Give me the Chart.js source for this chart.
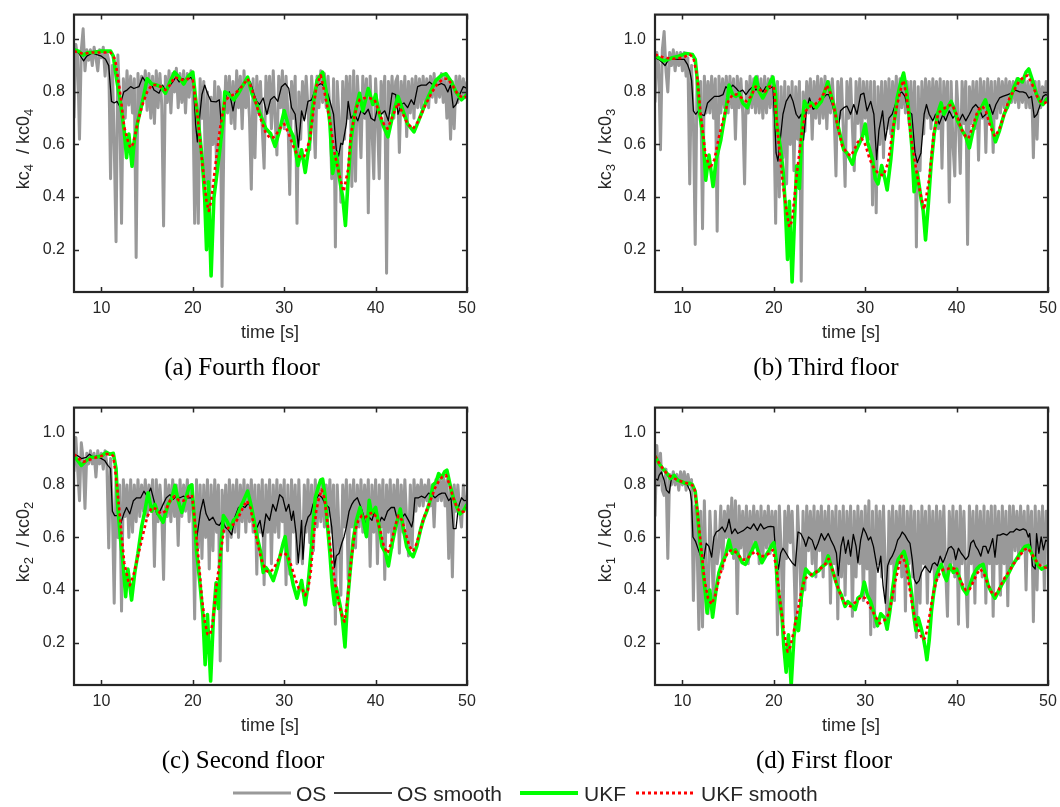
<!DOCTYPE html>
<html>
<head>
<meta charset="utf-8">
<script src="https://cdn.jsdelivr.net/npm/chart.js@4.4.0/dist/chart.umd.min.js"></script>
<style>
  body { margin: 0; background: #fff; }
  #page { position: relative; width: 1060px; height: 807px; overflow: hidden; font-family: "Liberation Sans", Arial, sans-serif; color: #262626; }
  canvas { position: absolute; }
  .ylab { position: absolute; transform: translate(-50%, -50%) rotate(-90deg); white-space: nowrap; font-size: 18px; }
  .ylab sub { font-size: 13px; vertical-align: -4px; }
  .xlab { position: absolute; transform: translate(-50%, -50%); white-space: nowrap; font-size: 18px; }
  .cap { position: absolute; transform: translate(-50%, -50%); white-space: nowrap; font-family: "Liberation Serif", "Times New Roman", serif; font-size: 25px; color: #000; }
  .leg { position: absolute; top: 793px; transform: translateY(-50%); white-space: nowrap; font-size: 21px; line-height: 1; }
  .legline { position: absolute; top: 790px; }
</style>
</head>
<body>
<div id="page">
  <canvas id="chart-a" width="473" height="326"></canvas>
  <canvas id="chart-b" width="473" height="326"></canvas>
  <canvas id="chart-c" width="473" height="326"></canvas>
  <canvas id="chart-d" width="473" height="326"></canvas>

  <div class="ylab" style="left:24px; top:149px;">kc<sub>4</sub>&nbsp; / kc0<sub>4</sub></div>
  <div class="ylab" style="left:606px; top:149px;">kc<sub>3</sub>&nbsp; / kc0<sub>3</sub></div>
  <div class="ylab" style="left:24px; top:542px;">kc<sub>2</sub>&nbsp; / kc0<sub>2</sub></div>
  <div class="ylab" style="left:606px; top:542px;">kc<sub>1</sub>&nbsp; / kc0<sub>1</sub></div>

  <div class="xlab" style="left:270px; top:332px;">time [s]</div>
  <div class="xlab" style="left:851px; top:332px;">time [s]</div>
  <div class="xlab" style="left:270px; top:725px;">time [s]</div>
  <div class="xlab" style="left:851px; top:725px;">time [s]</div>

  <div class="cap" style="left:242px; top:367px;">(a) Fourth floor</div>
  <div class="cap" style="left:826px; top:367px;">(b) Third floor</div>
  <div class="cap" style="left:243px; top:760px;">(c) Second floor</div>
  <div class="cap" style="left:824px; top:760px;">(d) First floor</div>

  <svg class="legline" style="left:233px;" width="58" height="6"><line x1="0" y1="3" x2="58" y2="3" stroke="#999999" stroke-width="3"/></svg>
  <div class="leg" style="left:296px;">OS</div>
  <svg class="legline" style="left:334px;" width="58" height="6"><line x1="0" y1="3" x2="58" y2="3" stroke="#000000" stroke-width="1.3"/></svg>
  <div class="leg" style="left:397px;">OS smooth</div>
  <svg class="legline" style="left:520px;" width="58" height="6"><line x1="0" y1="3" x2="58" y2="3" stroke="#00ff00" stroke-width="4"/></svg>
  <div class="leg" style="left:584px;">UKF</div>
  <svg class="legline" style="left:636px;" width="58" height="6"><line x1="0" y1="3" x2="58" y2="3" stroke="#ff0000" stroke-width="3" stroke-dasharray="3 3"/></svg>
  <div class="leg" style="left:701px;">UKF smooth</div>
</div>

<script>
'use strict';

var xTicks = [10, 20, 30, 40, 50];
var yTicks = [0.2, 0.4, 0.6, 0.8, 1.0];
var xMin = 7, xMax = 50;
var yMin = 0.039, yMax = 1.094;

// OS samples every 0.2 s from 7 s
var osStart = 7, osStep = 0.2;

// (a) fourth floor
var aOs = [
  0.70, 0.98, 0.93, 0.62, 0.96,  1.04, 0.88, 0.96, 0.92, 0.96,
  0.90, 0.97, 0.93, 0.88, 0.96,  0.93, 0.97, 0.86, 0.95, 0.92,
  0.47, 0.90, 0.60, 0.23, 0.94,  0.75, 0.30, 0.85, 0.70, 0.88,
  0.75, 0.86, 0.72, 0.85, 0.17,  0.87, 0.74, 0.86, 0.78, 0.88,
  0.73, 0.87, 0.70, 0.86, 0.68,  0.88, 0.74, 0.87, 0.75, 0.29,
  0.86, 0.76, 0.88, 0.72, 0.87,  0.80, 0.89, 0.74, 0.87, 0.76,
  0.88, 0.72, 0.87, 0.78, 0.88,  0.80, 0.30, 0.72, 0.30, 0.85,
  0.70, 0.84, 0.45, 0.80, 0.30,  0.78, 0.60, 0.84, 0.50, 0.82,
  0.80, 0.06, 0.64, 0.86, 0.72,  0.86, 0.68, 0.84, 0.66, 0.88,
  0.74, 0.86, 0.66, 0.88, 0.74,  0.84, 0.70, 0.43, 0.85, 0.55,
  0.86, 0.72, 0.84, 0.66, 0.51,  0.86, 0.72, 0.86, 0.66, 0.88,
  0.70, 0.56, 0.86, 0.74, 0.88,  0.66, 0.86, 0.72, 0.41, 0.84,
  0.70, 0.86, 0.30, 0.80, 0.62,  0.84, 0.70, 0.86, 0.74, 0.58,
  0.86, 0.72, 0.55, 0.86, 0.74,  0.88, 0.76, 0.87, 0.74, 0.86,
  0.72, 0.47, 0.85, 0.21, 0.84,  0.70, 0.38, 0.84, 0.62, 0.86,
  0.70, 0.86, 0.44, 0.88, 0.46,  0.86, 0.72, 0.55, 0.86, 0.70,
  0.85, 0.34, 0.86, 0.66, 0.47,  0.85, 0.70, 0.47, 0.84, 0.72,
  0.86, 0.11, 0.84, 0.72, 0.86,  0.70, 0.84, 0.86, 0.57, 0.84,
  0.72, 0.86, 0.63, 0.84, 0.72,  0.85, 0.70, 0.86, 0.74, 0.85,
  0.74, 0.86, 0.76, 0.85, 0.74,  0.86, 0.78, 0.87, 0.76, 0.85,
  0.78, 0.87, 0.76, 0.86, 0.70,  0.85, 0.62, 0.84, 0.66, 0.86,
  0.76, 0.86, 0.78, 0.85, 0.78,  0.84
];
var aOsSmT = [7.0, 7.5, 8.05, 8.4, 9.0, 9.5, 10.0, 10.45, 10.8, 11.1, 11.4, 11.7, 12.0, 12.45, 12.8, 13.2, 13.55, 14.1, 14.5, 14.85,
  15.3, 15.75, 16.3, 16.7, 17.05, 17.4, 17.8, 18.15, 18.5, 18.9, 19.3, 19.8, 20.05, 20.3, 20.5, 20.7, 21.0, 21.3, 21.6, 22.0,
  22.55, 22.9, 23.2, 23.65, 24.0, 24.4, 24.75, 25.1, 25.5, 25.9, 26.3, 26.7, 27.0, 27.3, 27.7, 28.1, 28.5, 28.9, 29.3, 29.7,
  30.1, 30.5, 30.8, 31.2, 31.55, 31.9, 32.2, 32.6, 33.0, 33.3, 33.7, 34.05, 34.4, 34.8, 35.1, 35.4, 35.7, 35.95, 36.2, 36.4,
  36.8, 37.0, 37.3, 37.7, 38.05, 38.4, 38.8, 39.2, 39.5, 39.9, 40.25, 40.6, 41.0, 41.4, 41.8, 42.2, 42.45, 42.8, 43.1, 43.5,
  43.9, 44.2, 44.6, 45.0, 45.55, 45.9, 46.3, 46.8, 47.2, 47.55, 47.9, 48.2, 48.5, 48.8, 49.2, 49.6, 50.0];
var aOsSmV = [0.96, 0.948, 0.918, 0.936, 0.948, 0.942, 0.936, 0.924, 0.90, 0.764, 0.758, 0.764, 0.746, 0.80, 0.807, 0.82, 0.813, 0.82, 0.856, 0.838,
  0.844, 0.807, 0.795, 0.826, 0.80, 0.82, 0.838, 0.856, 0.838, 0.85, 0.844, 0.856, 0.838, 0.678, 0.61, 0.69, 0.79, 0.826, 0.795, 0.764,
  0.762, 0.77, 0.642, 0.79, 0.80, 0.728, 0.795, 0.813, 0.826, 0.844, 0.838, 0.79, 0.764, 0.752, 0.777, 0.715, 0.77, 0.783, 0.764, 0.82,
  0.832, 0.813, 0.74, 0.715, 0.59, 0.728, 0.69, 0.764, 0.77, 0.80, 0.826, 0.832, 0.82, 0.79, 0.752, 0.715, 0.58, 0.556, 0.605, 0.60,
  0.678, 0.764, 0.70, 0.715, 0.69, 0.728, 0.715, 0.734, 0.70, 0.69, 0.746, 0.715, 0.728, 0.69, 0.795, 0.79, 0.715, 0.752, 0.758, 0.74,
  0.77, 0.752, 0.82, 0.826, 0.826, 0.838, 0.826, 0.826, 0.832, 0.826, 0.80, 0.826, 0.74, 0.752, 0.79, 0.82, 0.813];
var aUkfT = [7.0, 7.5, 8.0, 8.5, 9.0, 10.0, 11.0, 11.3, 11.7, 12.0, 12.5, 12.75, 13.0, 13.35, 13.6, 14.0, 14.5, 15.0, 15.5, 16.0,
  16.5, 17.0, 17.5, 18.0, 18.5, 19.0, 19.5, 20.0, 20.3, 20.7, 21.0, 21.3, 21.5, 21.7, 22.0, 22.3, 22.7, 23.0, 23.3, 23.5,
  24.0, 24.5, 25.0, 25.5, 26.0, 26.5, 27.0, 27.5, 28.0, 28.5, 29.0, 29.5, 30.0, 30.5, 31.0, 31.5, 31.9, 32.3, 32.8, 33.1,
  33.6, 34.2, 34.6, 35.0, 35.3, 35.7, 36.05, 36.4, 36.7, 37.0, 37.3, 37.7, 38.25, 38.6, 39.2, 39.7, 40.0, 40.4, 40.9, 41.35,
  41.9, 42.45, 43.0, 43.5, 44.2, 44.7, 45.4, 46.1, 46.6, 47.2, 47.7, 48.3, 48.8, 49.4, 50.0];
var aUkfV = [0.96, 0.955, 0.94, 0.95, 0.95, 0.955, 0.955, 0.936, 0.84, 0.78, 0.65, 0.55, 0.64, 0.517, 0.617, 0.69, 0.764, 0.85, 0.83, 0.826,
  0.82, 0.795, 0.838, 0.875, 0.856, 0.83, 0.86, 0.875, 0.777, 0.654, 0.556, 0.396, 0.20, 0.458, 0.10, 0.396, 0.507, 0.593, 0.69, 0.80,
  0.79, 0.77, 0.795, 0.826, 0.856, 0.79, 0.752, 0.703, 0.66, 0.642, 0.593, 0.654, 0.728, 0.666, 0.63, 0.52, 0.58, 0.494, 0.617, 0.74,
  0.844, 0.875, 0.80, 0.68, 0.49, 0.568, 0.47, 0.40, 0.292, 0.47, 0.617, 0.715, 0.795, 0.728, 0.813, 0.752, 0.79, 0.715, 0.666, 0.629,
  0.715, 0.783, 0.728, 0.678, 0.648, 0.69, 0.752, 0.807, 0.844, 0.863, 0.869, 0.838, 0.80, 0.77, 0.79];
var aUkfSmT = [7.0, 8.0, 9.0, 10.0, 11.0, 11.5, 12.0, 12.5, 13.0, 13.2, 13.5, 14.0, 14.5, 15.0, 15.5, 16.0, 16.5, 17.0, 17.5, 18.0,
  18.5, 19.0, 19.5, 20.0, 20.5, 21.0, 21.5, 21.75, 22.0, 22.5, 23.0, 23.5, 24.0, 24.5, 25.0, 25.5, 26.0, 26.5, 27.0, 27.5,
  28.0, 28.5, 29.0, 29.5, 30.0, 30.5, 31.0, 31.5, 32.0, 32.2, 32.8, 33.1, 33.5, 34.0, 34.4, 35.0, 35.5, 36.05, 36.5, 37.0,
  37.3, 37.9, 38.25, 38.8, 39.3, 39.9, 40.4, 40.9, 41.3, 41.9, 42.45, 43.0, 43.5, 44.1, 44.7, 45.4, 46.1, 46.8, 47.4, 47.9,
  48.5, 49.0, 49.6, 50.0];
var aUkfSmV = [0.955, 0.945, 0.95, 0.95, 0.95, 0.924, 0.81, 0.666, 0.60, 0.587, 0.605, 0.69, 0.752, 0.80, 0.826, 0.826, 0.82, 0.807, 0.826, 0.856,
  0.85, 0.844, 0.85, 0.844, 0.715, 0.54, 0.384, 0.347, 0.384, 0.53, 0.666, 0.764, 0.783, 0.79, 0.807, 0.826, 0.85, 0.807, 0.746, 0.69,
  0.642, 0.623, 0.63, 0.66, 0.678, 0.64, 0.593, 0.556, 0.55, 0.556, 0.617, 0.70, 0.82, 0.863, 0.80, 0.69, 0.568, 0.482, 0.421, 0.507,
  0.642, 0.74, 0.77, 0.777, 0.777, 0.77, 0.72, 0.678, 0.66, 0.71, 0.758, 0.715, 0.678, 0.66, 0.69, 0.746, 0.795, 0.832, 0.85, 0.85,
  0.82, 0.79, 0.777, 0.783];

// (b) third floor
var bOs = [
  0.76, 0.95, 0.90, 0.58, 0.96,  1.03, 0.88, 0.80, 0.95, 0.90,
  0.96, 0.88, 0.95, 0.90, 0.95,  0.88, 0.95, 0.86, 0.93, 0.45,
  0.90, 0.70, 0.22, 0.85, 0.75,  0.84, 0.28, 0.86, 0.72, 0.84,
  0.72, 0.86, 0.70, 0.85, 0.27,  0.86, 0.72, 0.85, 0.74, 0.86,
  0.72, 0.86, 0.74, 0.85, 0.62,  0.86, 0.74, 0.85, 0.72, 0.45,
  0.84, 0.72, 0.86, 0.74, 0.85,  0.72, 0.86, 0.72, 0.85, 0.70,
  0.86, 0.72, 0.85, 0.74, 0.86,  0.72, 0.30, 0.84, 0.40, 0.82,
  0.55, 0.84, 0.45, 0.82, 0.60,  0.84, 0.50, 0.82, 0.62, 0.84,
  0.08, 0.80, 0.65, 0.84, 0.72,  0.85, 0.62, 0.84, 0.70, 0.86,
  0.68, 0.85, 0.70, 0.86, 0.66,  0.84, 0.72, 0.85, 0.72, 0.48,
  0.84, 0.70, 0.85, 0.66, 0.44,  0.84, 0.70, 0.85, 0.66, 0.50,
  0.84, 0.68, 0.85, 0.62, 0.84,  0.70, 0.84, 0.62, 0.84, 0.37,
  0.84, 0.34, 0.82, 0.60, 0.84,  0.55, 0.84, 0.66, 0.85, 0.64,
  0.84, 0.70, 0.86, 0.66, 0.85,  0.74, 0.86, 0.72, 0.84, 0.68,
  0.84, 0.60, 0.84, 0.21, 0.82,  0.50, 0.84, 0.64, 0.85, 0.70,
  0.84, 0.66, 0.85, 0.70, 0.84,  0.66, 0.85, 0.51, 0.84, 0.70,
  0.84, 0.38, 0.84, 0.60, 0.48,  0.84, 0.70, 0.49, 0.84, 0.68,
  0.84, 0.22, 0.82, 0.68, 0.84,  0.66, 0.84, 0.54, 0.85, 0.70,
  0.84, 0.57, 0.85, 0.68, 0.84,  0.57, 0.84, 0.70, 0.85, 0.72,
  0.84, 0.74, 0.85, 0.74, 0.84,  0.76, 0.84, 0.76, 0.85, 0.74,
  0.84, 0.76, 0.85, 0.74, 0.84,  0.74, 0.84, 0.55, 0.84, 0.62,
  0.84, 0.74, 0.82, 0.76, 0.84,  0.78
];
var bOsSmT = [7.0, 7.4, 7.8, 8.1, 8.5, 9.1, 9.6, 10.2, 10.55, 10.8, 11.0, 11.2, 11.45, 11.75, 12.0, 12.4, 12.75, 13.1, 13.5, 14.0,
  14.45, 14.75, 15.1, 15.5, 15.9, 16.2, 16.6, 16.95, 17.3, 17.7, 18.05, 18.4, 18.8, 19.15, 19.5, 19.9, 20.1, 20.25, 20.45, 20.7,
  21.0, 21.35, 21.8, 22.1, 22.45, 22.75, 23.0, 23.25, 23.55, 23.9, 24.3, 24.65, 25.0, 25.4, 25.75, 26.0, 26.4, 26.75, 27.05, 27.3,
  27.65, 28.0, 28.4, 28.75, 29.1, 29.5, 29.85, 30.2, 30.6, 30.95, 31.25, 31.5, 31.9, 32.2, 32.6, 32.95, 33.3, 33.6, 34.0, 34.35,
  34.7, 35.1, 35.45, 35.7, 36.1, 36.45, 36.7, 37.0, 37.4, 37.7, 38.1, 38.5, 38.8, 39.2, 39.6, 39.9, 40.3, 40.65, 41.0, 41.4,
  41.75, 42.1, 42.5, 42.85, 43.2, 43.6, 43.95, 44.3, 44.7, 45.05, 45.6, 46.0, 46.45, 46.9, 47.25, 47.6, 47.9, 48.2, 48.5, 48.8,
  49.1, 49.45, 49.75, 50.0];
var bOsSmV = [0.93, 0.924, 0.912, 0.90, 0.924, 0.926, 0.924, 0.924, 0.905, 0.88, 0.844, 0.728, 0.715, 0.728, 0.715, 0.71, 0.758, 0.77, 0.783, 0.783,
  0.79, 0.82, 0.807, 0.826, 0.813, 0.80, 0.807, 0.79, 0.807, 0.82, 0.807, 0.82, 0.80, 0.82, 0.813, 0.82, 0.69, 0.568, 0.537, 0.617,
  0.715, 0.764, 0.79, 0.764, 0.715, 0.70, 0.715, 0.617, 0.728, 0.777, 0.734, 0.74, 0.764, 0.777, 0.79, 0.79, 0.752, 0.703, 0.654, 0.728,
  0.74, 0.746, 0.715, 0.752, 0.715, 0.79, 0.795, 0.728, 0.764, 0.715, 0.543, 0.654, 0.728, 0.617, 0.70, 0.715, 0.752, 0.79, 0.80, 0.783,
  0.728, 0.715, 0.568, 0.531, 0.568, 0.715, 0.752, 0.715, 0.69, 0.715, 0.678, 0.715, 0.69, 0.728, 0.70, 0.715, 0.69, 0.715, 0.69, 0.715,
  0.74, 0.752, 0.734, 0.703, 0.715, 0.752, 0.715, 0.752, 0.777, 0.783, 0.79, 0.795, 0.807, 0.80, 0.80, 0.795, 0.777, 0.783, 0.703, 0.715,
  0.746, 0.783, 0.79, 0.787];
var bUkfT = [7.0, 7.4, 8.0, 8.9, 9.6, 10.4, 11.1, 11.4, 11.65, 11.9, 12.3, 12.55, 12.9, 13.35, 13.7, 14.2, 14.6, 14.95, 15.1, 15.5,
  15.85, 16.2, 16.6, 17.1, 17.6, 18.05, 18.4, 18.8, 19.15, 19.7, 19.9, 20.2, 20.3, 20.7, 21.0, 21.25, 21.5, 21.7, 22.0, 22.3,
  22.5, 22.8, 23.1, 23.35, 23.7, 24.1, 24.65, 25.2, 25.75, 25.9, 26.2, 26.55, 26.9, 27.3, 27.65, 28.0, 28.6, 28.9, 29.3, 29.7,
  30.0, 30.3, 30.8, 31.1, 31.4, 31.8, 32.15, 32.4, 32.8, 33.15, 33.5, 33.9, 34.2, 34.5, 34.8, 35.1, 35.35, 35.7, 36.1, 36.35,
  36.6, 36.9, 37.2, 37.55, 37.9, 38.3, 38.6, 39.0, 39.4, 39.7, 40.1, 40.6, 41.0, 41.4, 41.8, 42.3, 42.8, 43.15, 43.6, 43.95,
  44.25, 44.7, 45.2, 45.8, 46.3, 46.7, 47.2, 47.6, 47.9, 48.3, 48.7, 49.1, 49.45, 49.8, 50.0];
var bUkfV = [0.936, 0.93, 0.918, 0.93, 0.936, 0.946, 0.942, 0.924, 0.838, 0.715, 0.617, 0.464, 0.56, 0.44, 0.544, 0.617, 0.703, 0.777, 0.826, 0.79,
  0.783, 0.795, 0.758, 0.74, 0.79, 0.856, 0.80, 0.777, 0.80, 0.844, 0.856, 0.79, 0.678, 0.593, 0.507, 0.372, 0.163, 0.384, 0.077, 0.347,
  0.519, 0.433, 0.678, 0.764, 0.74, 0.758, 0.74, 0.764, 0.82, 0.838, 0.795, 0.752, 0.69, 0.63, 0.58, 0.568, 0.525, 0.568, 0.60, 0.63,
  0.678, 0.605, 0.543, 0.47, 0.45, 0.52, 0.47, 0.427, 0.543, 0.678, 0.777, 0.838, 0.872, 0.813, 0.715, 0.593, 0.42, 0.494, 0.396, 0.347,
  0.237, 0.37, 0.52, 0.642, 0.715, 0.758, 0.715, 0.74, 0.764, 0.74, 0.69, 0.654, 0.63, 0.587, 0.654, 0.715, 0.746, 0.77, 0.715, 0.654,
  0.61, 0.654, 0.715, 0.764, 0.82, 0.85, 0.838, 0.875, 0.887, 0.844, 0.795, 0.764, 0.752, 0.77, 0.777];
var bUkfSmT = [7.0, 8.0, 9.0, 10.0, 10.8, 11.2, 11.6, 12.0, 12.5, 13.0, 13.5, 14.0, 14.5, 15.0, 15.5, 16.0, 16.5, 17.0, 17.5, 18.0,
  18.5, 19.0, 19.5, 20.0, 20.5, 21.0, 21.5, 21.7, 22.0, 22.5, 23.0, 23.5, 24.0, 24.5, 25.0, 25.5, 25.8, 26.2, 26.6, 27.0,
  27.5, 28.0, 28.4, 28.8, 29.2, 29.6, 30.0, 30.5, 31.0, 31.5, 32.0, 32.5, 33.0, 33.5, 34.0, 34.2, 34.6, 35.0, 35.5, 36.0,
  36.45, 37.0, 37.5, 38.0, 38.5, 39.0, 39.5, 40.0, 40.5, 41.0, 41.3, 41.8, 42.3, 42.8, 43.2, 43.7, 44.2, 44.7, 45.2, 45.8,
  46.3, 46.8, 47.3, 47.8, 48.3, 48.8, 49.3, 49.7, 50.0];
var bUkfSmV = [0.942, 0.93, 0.926, 0.93, 0.942, 0.93, 0.863, 0.715, 0.568, 0.507, 0.543, 0.63, 0.70, 0.764, 0.79, 0.79, 0.777, 0.764, 0.783, 0.82,
  0.807, 0.80, 0.82, 0.82, 0.617, 0.445, 0.323, 0.286, 0.31, 0.482, 0.63, 0.728, 0.746, 0.752, 0.77, 0.795, 0.826, 0.795, 0.74, 0.666,
  0.593, 0.568, 0.556, 0.58, 0.61, 0.623, 0.60, 0.543, 0.507, 0.488, 0.482, 0.53, 0.654, 0.752, 0.826, 0.844, 0.764, 0.63, 0.52, 0.42,
  0.353, 0.47, 0.642, 0.72, 0.734, 0.746, 0.752, 0.715, 0.66, 0.63, 0.623, 0.672, 0.728, 0.746, 0.728, 0.666, 0.63, 0.66, 0.715, 0.777,
  0.807, 0.838, 0.856, 0.863, 0.826, 0.783, 0.758, 0.758, 0.77];

// (c) second floor
var cOs = [
  0.85, 0.98, 0.86, 0.74, 0.96,  0.90, 0.71, 0.92, 0.88, 0.93,
  0.88, 0.92, 0.83, 0.93, 0.88,  0.92, 0.86, 0.93, 0.88, 0.56,
  0.90, 0.70, 0.35, 0.82, 0.60,  0.80, 0.32, 0.82, 0.68, 0.80,
  0.60, 0.82, 0.62, 0.80, 0.66,  0.82, 0.68, 0.80, 0.70, 0.82,
  0.68, 0.80, 0.70, 0.82, 0.49,  0.82, 0.66, 0.80, 0.70, 0.44,
  0.82, 0.68, 0.80, 0.66, 0.82,  0.68, 0.80, 0.57, 0.82, 0.68,
  0.80, 0.70, 0.82, 0.66, 0.80,  0.70, 0.29, 0.82, 0.56, 0.80,
  0.52, 0.80, 0.60, 0.82, 0.48,  0.80, 0.55, 0.82, 0.62, 0.80,
  0.13, 0.78, 0.62, 0.80, 0.55,  0.82, 0.60, 0.80, 0.62, 0.82,
  0.60, 0.80, 0.66, 0.82, 0.62,  0.80, 0.66, 0.82, 0.62, 0.80,
  0.46, 0.80, 0.62, 0.82, 0.42,  0.80, 0.62, 0.82, 0.50, 0.80,
  0.62, 0.82, 0.60, 0.80, 0.66,  0.82, 0.42, 0.80, 0.46, 0.82,
  0.62, 0.80, 0.50, 0.82, 0.60,  0.50, 0.80, 0.62, 0.82, 0.58,
  0.80, 0.55, 0.82, 0.64, 0.80,  0.66, 0.82, 0.64, 0.80, 0.68,
  0.82, 0.62, 0.80, 0.27, 0.80,  0.62, 0.38, 0.80, 0.64, 0.82,
  0.44, 0.80, 0.64, 0.82, 0.56,  0.80, 0.64, 0.82, 0.62, 0.80,
  0.66, 0.82, 0.49, 0.80, 0.62,  0.82, 0.50, 0.80, 0.64, 0.82,
  0.44, 0.80, 0.62, 0.82, 0.56,  0.80, 0.64, 0.82, 0.54, 0.80,
  0.62, 0.82, 0.66, 0.53, 0.80,  0.56, 0.82, 0.70, 0.80, 0.72,
  0.82, 0.72, 0.80, 0.74, 0.82,  0.72, 0.80, 0.64, 0.82, 0.74,
  0.82, 0.74, 0.84, 0.72, 0.82,  0.52, 0.80, 0.45, 0.80, 0.70,
  0.80, 0.70, 0.64, 0.80, 0.72,  0.76
];
var cOsSmT = [7.0, 7.45, 7.8, 8.35, 8.7, 9.1, 9.45, 10.0, 10.35, 10.7, 11.0, 11.2, 11.45, 11.8, 12.1, 12.45, 12.75, 13.1, 13.5, 13.85,
  14.3, 14.65, 15.0, 15.4, 15.75, 16.05, 16.4, 16.75, 17.1, 17.5, 17.85, 18.2, 18.6, 18.95, 19.4, 19.8, 20.1, 20.35, 20.6, 20.85,
  21.15, 21.45, 21.8, 22.2, 22.55, 22.9, 23.25, 23.55, 23.9, 24.25, 24.6, 25.0, 25.35, 25.7, 26.1, 26.45, 26.8, 27.05, 27.35, 27.65,
  28.0, 28.4, 28.75, 29.1, 29.5, 29.85, 30.2, 30.5, 30.8, 31.0, 31.3, 31.55, 31.9, 32.05, 32.3, 32.6, 32.9, 33.15, 33.4, 33.8,
  34.15, 34.5, 34.9, 35.2, 35.5, 35.7, 36.0, 36.3, 36.55, 36.8, 37.1, 37.4, 37.65, 38.0, 38.4, 38.75, 39.0, 39.3, 39.6, 40.0,
  40.35, 40.65, 40.95, 41.3, 41.7, 42.05, 42.4, 42.7, 42.9, 43.2, 43.6, 43.95, 44.1, 44.3, 44.7, 45.0, 45.4, 45.8, 46.15, 46.5,
  46.9, 47.25, 47.6, 48.0, 48.25, 48.5, 48.8, 49.05, 49.4, 49.7, 50.0];
var cOsSmV = [0.917, 0.91, 0.90, 0.905, 0.917, 0.905, 0.91, 0.90, 0.893, 0.874, 0.862, 0.70, 0.683, 0.683, 0.652, 0.69, 0.714, 0.69, 0.74, 0.751,
  0.751, 0.776, 0.757, 0.788, 0.74, 0.69, 0.70, 0.726, 0.751, 0.763, 0.745, 0.757, 0.751, 0.757, 0.751, 0.751, 0.74, 0.578, 0.64, 0.70,
  0.745, 0.69, 0.665, 0.677, 0.652, 0.646, 0.665, 0.64, 0.628, 0.61, 0.677, 0.714, 0.72, 0.714, 0.732, 0.70, 0.628, 0.64, 0.665, 0.603,
  0.69, 0.665, 0.726, 0.70, 0.763, 0.751, 0.70, 0.726, 0.665, 0.70, 0.615, 0.504, 0.665, 0.517, 0.64, 0.677, 0.69, 0.726, 0.74, 0.763,
  0.751, 0.726, 0.714, 0.64, 0.486, 0.53, 0.54, 0.578, 0.603, 0.64, 0.70, 0.726, 0.74, 0.751, 0.714, 0.677, 0.628, 0.677, 0.665, 0.714,
  0.652, 0.677, 0.665, 0.70, 0.714, 0.714, 0.665, 0.70, 0.677, 0.69, 0.665, 0.64, 0.665, 0.751, 0.751, 0.757, 0.751, 0.769, 0.763, 0.751,
  0.763, 0.769, 0.769, 0.74, 0.751, 0.634, 0.634, 0.714, 0.751, 0.74, 0.741];
var cUkfT = [7.0, 7.25, 7.8, 8.35, 8.9, 9.45, 10.0, 10.55, 10.9, 11.3, 11.6, 11.8, 12.1, 12.4, 12.65, 12.9, 13.3, 13.65, 14.0, 14.4,
  14.75, 15.1, 15.5, 15.85, 16.2, 16.75, 17.3, 17.7, 18.05, 18.4, 18.8, 19.15, 19.6, 19.9, 20.1, 20.4, 20.8, 21.1, 21.35, 21.6,
  21.95, 22.25, 22.55, 22.8, 23.05, 23.35, 23.7, 24.1, 24.45, 24.8, 25.2, 25.55, 26.0, 26.35, 26.7, 27.05, 27.45, 27.7, 28.0, 28.4,
  28.8, 29.2, 29.55, 29.9, 30.1, 30.35, 30.65, 31.0, 31.4, 31.9, 32.3, 32.6, 32.9, 33.15, 33.4, 33.7, 34.0, 34.2, 34.45, 34.75,
  35.0, 35.25, 35.5, 35.7, 36.1, 36.35, 36.65, 36.9, 37.2, 37.55, 37.9, 38.3, 38.65, 39.0, 39.3, 39.55, 40.0, 40.4, 40.7, 41.1,
  41.4, 41.75, 42.2, 42.7, 43.0, 43.4, 43.75, 44.1, 44.5, 44.9, 45.2, 45.6, 45.95, 46.3, 46.6, 46.9, 47.2, 47.55, 47.8, 48.15,
  48.5, 48.9, 49.25, 49.6, 50.0];
var cUkfV = [0.91, 0.90, 0.874, 0.893, 0.905, 0.905, 0.91, 0.924, 0.917, 0.92, 0.862, 0.714, 0.59, 0.49, 0.375, 0.48, 0.362, 0.467, 0.54, 0.64,
  0.70, 0.77, 0.70, 0.726, 0.69, 0.658, 0.726, 0.75, 0.798, 0.74, 0.695, 0.74, 0.794, 0.80, 0.70, 0.554, 0.418, 0.307, 0.116, 0.307,
  0.054, 0.295, 0.428, 0.33, 0.554, 0.683, 0.665, 0.634, 0.665, 0.677, 0.714, 0.74, 0.776, 0.726, 0.665, 0.60, 0.54, 0.467, 0.486, 0.467,
  0.436, 0.48, 0.53, 0.58, 0.603, 0.53, 0.48, 0.418, 0.369, 0.436, 0.344, 0.418, 0.53, 0.64, 0.751, 0.788, 0.819, 0.822, 0.763, 0.64,
  0.54, 0.418, 0.344, 0.41, 0.344, 0.295, 0.184, 0.344, 0.467, 0.59, 0.665, 0.714, 0.665, 0.603, 0.741, 0.69, 0.714, 0.64, 0.566, 0.54,
  0.492, 0.566, 0.64, 0.708, 0.64, 0.566, 0.54, 0.527, 0.566, 0.627, 0.665, 0.70, 0.74, 0.80, 0.81, 0.843, 0.827, 0.85, 0.856, 0.80,
  0.751, 0.714, 0.69, 0.70, 0.726];
var cUkfSmT = [7.0, 7.5, 8.0, 8.5, 9.0, 9.5, 10.0, 10.5, 11.0, 11.3, 11.7, 12.0, 12.5, 13.0, 13.1, 13.5, 14.0, 14.5, 15.0, 15.5,
  16.0, 16.5, 17.0, 17.5, 18.0, 18.5, 19.0, 19.5, 19.9, 20.3, 20.7, 21.0, 21.3, 21.6, 21.9, 22.2, 22.6, 23.0, 23.4, 23.8,
  24.2, 24.6, 25.0, 25.5, 25.9, 26.3, 26.7, 27.1, 27.5, 28.0, 28.4, 28.8, 29.2, 29.6, 30.0, 30.4, 30.8, 31.2, 31.6, 32.0,
  32.3, 32.6, 32.9, 33.2, 33.5, 33.8, 34.1, 34.4, 34.8, 35.2, 35.6, 36.0, 36.4, 36.6, 36.9, 37.3, 37.7, 38.1, 38.5, 38.9,
  39.3, 39.7, 40.1, 40.5, 40.9, 41.3, 41.7, 42.1, 42.5, 42.9, 43.3, 43.7, 44.1, 44.5, 44.9, 45.3, 45.7, 46.1, 46.5, 46.9,
  47.3, 47.7, 48.1, 48.5, 48.9, 49.3, 49.7, 50.0];
var cUkfSmV = [0.917, 0.90, 0.887, 0.893, 0.90, 0.905, 0.91, 0.917, 0.917, 0.91, 0.80, 0.69, 0.504, 0.424, 0.418, 0.455, 0.53, 0.603, 0.677, 0.714,
  0.708, 0.69, 0.70, 0.74, 0.757, 0.74, 0.74, 0.757, 0.763, 0.64, 0.49, 0.369, 0.282, 0.233, 0.23, 0.282, 0.418, 0.53, 0.628, 0.634,
  0.646, 0.652, 0.677, 0.714, 0.74, 0.714, 0.64, 0.578, 0.517, 0.474, 0.467, 0.48, 0.504, 0.535, 0.541, 0.53, 0.49, 0.443, 0.406, 0.40,
  0.38, 0.40, 0.467, 0.59, 0.70, 0.75, 0.782, 0.75, 0.64, 0.517, 0.418, 0.344, 0.295, 0.28, 0.356, 0.504, 0.615, 0.665, 0.683, 0.677,
  0.69, 0.695, 0.677, 0.628, 0.566, 0.54, 0.578, 0.64, 0.683, 0.665, 0.615, 0.566, 0.547, 0.578, 0.628, 0.677, 0.714, 0.75, 0.788, 0.813,
  0.831, 0.837, 0.80, 0.75, 0.714, 0.695, 0.70, 0.714];

// (d) first floor
var dOs = [
  0.68, 0.95, 0.80, 0.92, 0.78,  0.76, 0.86, 0.52, 0.84, 0.80,
  0.85, 0.80, 0.84, 0.78, 0.85,  0.80, 0.85, 0.78, 0.84, 0.80,
  0.82, 0.36, 0.72, 0.58, 0.25,  0.70, 0.26, 0.74, 0.45, 0.31,
  0.70, 0.55, 0.36, 0.70, 0.50,  0.56, 0.72, 0.48, 0.70, 0.60,
  0.72, 0.55, 0.75, 0.52, 0.74,  0.31, 0.72, 0.56, 0.70, 0.52,
  0.72, 0.50, 0.70, 0.55, 0.72,  0.58, 0.70, 0.50, 0.72, 0.52,
  0.70, 0.56, 0.72, 0.54, 0.70,  0.58, 0.70, 0.23, 0.72, 0.55,
  0.27, 0.70, 0.52, 0.72, 0.58,  0.70, 0.50, 0.25, 0.72, 0.55,
  0.34, 0.70, 0.40, 0.72, 0.55,  0.70, 0.50, 0.72, 0.45, 0.70,
  0.55, 0.72, 0.45, 0.70, 0.50,  0.72, 0.35, 0.70, 0.50, 0.72,
  0.29, 0.70, 0.45, 0.72, 0.38,  0.70, 0.50, 0.72, 0.30, 0.70,
  0.45, 0.72, 0.50, 0.70, 0.36,  0.72, 0.48, 0.74, 0.23, 0.70,
  0.26, 0.72, 0.50, 0.70, 0.45,  0.72, 0.48, 0.25, 0.70, 0.50,
  0.72, 0.36, 0.70, 0.50, 0.72,  0.45, 0.72, 0.32, 0.70, 0.50,
  0.72, 0.45, 0.70, 0.22, 0.70,  0.35, 0.72, 0.50, 0.70, 0.35,
  0.72, 0.48, 0.70, 0.40, 0.72,  0.45, 0.70, 0.50, 0.72, 0.48,
  0.30, 0.70, 0.50, 0.72, 0.45,  0.70, 0.27, 0.72, 0.50, 0.70,
  0.45, 0.26, 0.72, 0.50, 0.70,  0.35, 0.72, 0.48, 0.70, 0.45,
  0.72, 0.35, 0.70, 0.50, 0.72,  0.30, 0.72, 0.50, 0.70, 0.38,
  0.72, 0.50, 0.70, 0.34, 0.72,  0.50, 0.72, 0.55, 0.70, 0.52,
  0.72, 0.55, 0.70, 0.40, 0.72,  0.55, 0.70, 0.28, 0.72, 0.40,
  0.70, 0.50, 0.72, 0.40, 0.70,  0.60
];
var dOsSmT = [7.0, 7.3, 7.45, 7.7, 8.0, 8.25, 8.55, 8.85, 9.1, 9.45, 9.8, 10.2, 10.55, 10.85, 11.0, 11.15, 11.45, 11.75, 12.0, 12.35,
  12.6, 12.9, 13.2, 13.45, 13.7, 14.0, 14.35, 14.65, 14.9, 15.1, 15.4, 15.75, 16.05, 16.35, 16.7, 17.1, 17.45, 17.8, 18.2, 18.55,
  18.9, 19.3, 19.65, 20.0, 20.2, 20.5, 20.75, 21.0, 21.35, 21.65, 22.0, 22.35, 22.65, 22.95, 23.3, 23.5, 23.8, 24.2, 24.55, 24.85,
  25.2, 25.55, 25.95, 26.25, 26.6, 26.85, 27.05, 27.35, 27.6, 27.85, 28.15, 28.4, 28.7, 29.0, 29.2, 29.5, 29.8, 30.1, 30.35, 30.6,
  30.9, 31.15, 31.4, 31.7, 31.95, 32.2, 32.45, 32.7, 32.95, 33.25, 33.55, 33.8, 34.05, 34.35, 34.65, 34.9, 35.15, 35.35, 35.6, 35.9,
  36.15, 36.55, 36.8, 37.1, 37.35, 37.6, 37.9, 38.2, 38.5, 38.8, 39.1, 39.4, 39.7, 39.9, 40.2, 40.5, 40.75, 41.0, 41.3, 41.55,
  41.85, 42.1, 42.35, 42.65, 42.9, 43.2, 43.45, 43.7, 43.95, 44.2, 44.45, 44.75, 45.1, 45.5, 45.85, 46.2, 46.55, 46.9, 47.3, 47.6,
  47.85, 48.0, 48.3, 48.6, 48.75, 49.0, 49.25, 49.5, 49.75, 50.0];
var dOsSmV = [0.824, 0.818, 0.836, 0.849, 0.818, 0.78, 0.769, 0.836, 0.83, 0.824, 0.812, 0.806, 0.80, 0.775, 0.738, 0.602, 0.584, 0.553, 0.529, 0.52,
  0.578, 0.566, 0.525, 0.602, 0.621, 0.627, 0.64, 0.621, 0.64, 0.67, 0.615, 0.633, 0.615, 0.621, 0.627, 0.64, 0.633, 0.652, 0.627, 0.652,
  0.633, 0.64, 0.642, 0.64, 0.54, 0.479, 0.54, 0.559, 0.54, 0.522, 0.504, 0.492, 0.621, 0.615, 0.59, 0.566, 0.602, 0.59, 0.553, 0.578,
  0.615, 0.59, 0.615, 0.59, 0.566, 0.54, 0.455, 0.566, 0.602, 0.54, 0.59, 0.529, 0.612, 0.566, 0.504, 0.59, 0.636, 0.615, 0.59, 0.602,
  0.566, 0.516, 0.467, 0.529, 0.418, 0.35, 0.492, 0.516, 0.529, 0.553, 0.59, 0.602, 0.621, 0.609, 0.59, 0.578, 0.516, 0.442, 0.424, 0.436,
  0.467, 0.492, 0.479, 0.467, 0.498, 0.504, 0.492, 0.529, 0.504, 0.529, 0.559, 0.566, 0.553, 0.516, 0.559, 0.54, 0.529, 0.516, 0.529, 0.578,
  0.59, 0.566, 0.553, 0.529, 0.566, 0.566, 0.54, 0.566, 0.596, 0.525, 0.609, 0.609, 0.615, 0.609, 0.621, 0.621, 0.633, 0.627, 0.633, 0.627,
  0.602, 0.615, 0.492, 0.48, 0.615, 0.54, 0.602, 0.553, 0.59, 0.584];
var dUkfT = [7.0, 7.45, 7.9, 8.35, 8.7, 9.1, 9.45, 9.95, 10.35, 10.8, 11.1, 11.4, 11.65, 11.9, 12.2, 12.5, 12.7, 13.0, 13.3, 13.65,
  14.0, 14.35, 14.7, 15.1, 15.45, 15.8, 16.2, 16.55, 16.9, 17.3, 17.65, 18.0, 18.35, 18.7, 19.1, 19.5, 19.8, 20.0, 20.2, 20.35,
  20.6, 20.9, 21.1, 21.35, 21.6, 21.9, 22.2, 22.45, 22.7, 23.0, 23.3, 23.5, 23.8, 24.2, 24.55, 24.9, 25.3, 25.65, 25.95, 26.3,
  26.7, 27.05, 27.4, 27.8, 28.1, 28.5, 28.9, 29.2, 29.6, 29.9, 30.25, 30.6, 31.0, 31.35, 31.7, 32.1, 32.4, 32.7, 33.0, 33.25,
  33.6, 34.0, 34.25, 34.5, 34.8, 35.1, 35.35, 35.55, 35.8, 36.1, 36.35, 36.6, 36.75, 37.0, 37.25, 37.55, 37.8, 38.05, 38.35, 38.65,
  38.9, 39.3, 39.65, 40.0, 40.35, 40.7, 41.1, 41.45, 41.8, 42.2, 42.55, 42.9, 43.2, 43.45, 43.8, 44.2, 44.55, 44.9, 45.3, 45.65,
  46.0, 46.4, 46.75, 47.1, 47.5, 47.85, 48.2, 48.6, 48.95, 49.3, 49.65, 50.0];
var dUkfV = [0.91, 0.88, 0.86, 0.842, 0.824, 0.836, 0.818, 0.812, 0.806, 0.806, 0.80, 0.775, 0.69, 0.59, 0.49, 0.393, 0.313, 0.40, 0.297, 0.393,
  0.467, 0.504, 0.529, 0.59, 0.54, 0.553, 0.529, 0.504, 0.498, 0.529, 0.553, 0.58, 0.54, 0.504, 0.529, 0.553, 0.572, 0.58, 0.529, 0.442,
  0.369, 0.295, 0.184, 0.088, 0.23, 0.036, 0.22, 0.295, 0.246, 0.369, 0.442, 0.48, 0.467, 0.455, 0.467, 0.473, 0.49, 0.498, 0.53, 0.49,
  0.442, 0.405, 0.38, 0.338, 0.356, 0.344, 0.326, 0.369, 0.38, 0.43, 0.38, 0.356, 0.307, 0.264, 0.31, 0.295, 0.252, 0.32, 0.405, 0.467,
  0.516, 0.535, 0.547, 0.516, 0.455, 0.38, 0.295, 0.246, 0.295, 0.258, 0.221, 0.172, 0.135, 0.209, 0.32, 0.405, 0.455, 0.48, 0.498, 0.455,
  0.436, 0.495, 0.467, 0.48, 0.442, 0.405, 0.385, 0.418, 0.455, 0.48, 0.492, 0.498, 0.455, 0.418, 0.393, 0.369, 0.393, 0.418, 0.442, 0.461,
  0.486, 0.51, 0.529, 0.547, 0.566, 0.57, 0.54, 0.516, 0.492, 0.48, 0.486, 0.492];
var dUkfSmT = [7.0, 7.5, 8.0, 8.5, 9.0, 9.5, 10.0, 10.5, 11.0, 11.3, 11.6, 12.0, 12.4, 12.8, 13.2, 13.6, 14.0, 14.5, 15.0, 15.5,
  16.0, 16.5, 17.0, 17.5, 18.0, 18.5, 19.0, 19.5, 19.9, 20.3, 20.7, 21.1, 21.5, 21.8, 22.2, 22.6, 23.0, 23.4, 23.8, 24.2,
  24.6, 25.0, 25.5, 26.0, 26.4, 26.8, 27.2, 27.6, 28.0, 28.4, 28.8, 29.2, 29.6, 30.0, 30.4, 30.8, 31.2, 31.6, 32.0, 32.4,
  32.8, 33.2, 33.6, 34.0, 34.4, 34.8, 35.2, 35.6, 36.0, 36.3, 36.6, 37.0, 37.4, 37.8, 38.2, 38.6, 39.0, 39.4, 39.8, 40.2,
  40.6, 41.0, 41.4, 41.8, 42.2, 42.6, 43.0, 43.4, 43.8, 44.2, 44.6, 45.0, 45.4, 45.8, 46.2, 46.6, 47.0, 47.4, 47.8, 48.2,
  48.6, 49.0, 49.4, 49.8, 50.0];
var dUkfSmV = [0.91, 0.88, 0.855, 0.836, 0.826, 0.818, 0.812, 0.806, 0.80, 0.794, 0.713, 0.578, 0.442, 0.369, 0.346, 0.38, 0.442, 0.504, 0.547, 0.553,
  0.54, 0.516, 0.516, 0.535, 0.547, 0.529, 0.529, 0.54, 0.553, 0.48, 0.356, 0.246, 0.166, 0.184, 0.246, 0.32, 0.393, 0.442, 0.455, 0.461,
  0.467, 0.48, 0.492, 0.519, 0.48, 0.43, 0.393, 0.356, 0.344, 0.338, 0.35, 0.362, 0.375, 0.369, 0.344, 0.32, 0.295, 0.273, 0.282, 0.295,
  0.344, 0.418, 0.48, 0.53, 0.504, 0.418, 0.332, 0.27, 0.233, 0.211, 0.22, 0.295, 0.381, 0.436, 0.467, 0.48, 0.48, 0.486, 0.48, 0.455,
  0.424, 0.40, 0.40, 0.43, 0.461, 0.48, 0.461, 0.424, 0.393, 0.381, 0.40, 0.43, 0.455, 0.473, 0.498, 0.516, 0.535, 0.553, 0.56, 0.54,
  0.516, 0.498, 0.486, 0.486, 0.492];

var tickFont = { family: '"Liberation Sans", Arial, sans-serif', size: 16 };

function pairs(t, v) {
  return t.map(function (x, i) { return { x: x, y: v[i] }; });
}

function osPairs(v) {
  return v.map(function (y, i) { return { x: osStart + i * osStep, y: y }; });
}

// box round the plot with MATLAB style inward ticks
var boxPlugin = {
  id: 'box',
  afterDatasetsDraw: function (chart) {
    var ctx = chart.ctx;
    var a = chart.chartArea;
    var x = chart.scales.x;
    var y = chart.scales.y;
    ctx.save();
    ctx.strokeStyle = '#262626';
    ctx.lineWidth = 1.5;
    ctx.beginPath();
    xTicks.forEach(function (v) {
      var px = Math.round(x.getPixelForValue(v)) + 0.5;
      ctx.moveTo(px, a.bottom); ctx.lineTo(px, a.bottom - 5);
      ctx.moveTo(px, a.top); ctx.lineTo(px, a.top + 5);
    });
    yTicks.forEach(function (v) {
      var py = Math.round(y.getPixelForValue(v)) + 0.5;
      ctx.moveTo(a.left, py); ctx.lineTo(a.left + 5, py);
      ctx.moveTo(a.right, py); ctx.lineTo(a.right - 5, py);
    });
    ctx.stroke();
    ctx.lineWidth = 2.2;
    ctx.strokeRect(a.left, a.top, a.right - a.left, a.bottom - a.top);
    ctx.restore();
  }
};

function makeChart(id, left, top, os, osSmT, osSmV, ukfT, ukfV, ukfSmT, ukfSmV) {
  var canvas = document.getElementById(id);
  canvas.style.left = (left - 60) + 'px';
  canvas.style.top = (top - 10) + 'px';

  return new Chart(canvas, {
    type: 'line',
    data: {
      datasets: [
        { label: 'UKF smooth', data: pairs(ukfSmT, ukfSmV), borderColor: '#ff0000', borderWidth: 2.6, borderDash: [3, 3] },
        { label: 'UKF', data: pairs(ukfT, ukfV), borderColor: '#00ff00', borderWidth: 3.6 },
        { label: 'OS smooth', data: pairs(osSmT, osSmV), borderColor: '#000000', borderWidth: 1.3 },
        { label: 'OS', data: osPairs(os), borderColor: '#999999', borderWidth: 3 }
      ]
    },
    options: {
      responsive: false,
      animation: false,
      layout: { padding: { left: 0, top: 10, right: 20, bottom: 0 } },
      elements: {
        point: { radius: 0 },
        line: { tension: 0, fill: false, borderJoinStyle: 'round', borderCapStyle: 'butt' }
      },
      plugins: { legend: { display: false }, tooltip: { enabled: false } },
      scales: {
        x: {
          type: 'linear', min: xMin, max: xMax,
          afterBuildTicks: function (s) { s.ticks = xTicks.map(function (v) { return { value: v }; }); },
          afterFit: function (s) { s.height = 30; },
          grid: { display: false, drawTicks: false },
          border: { display: false },
          ticks: { font: tickFont, color: '#262626', padding: 7, maxRotation: 0 }
        },
        y: {
          min: yMin, max: yMax,
          afterBuildTicks: function (s) { s.ticks = yTicks.map(function (v) { return { value: v }; }); },
          afterFit: function (s) { s.width = 60; },
          grid: { display: false, drawTicks: false },
          border: { display: false },
          ticks: { font: tickFont, color: '#262626', padding: 9, callback: function (v) { return v.toFixed(1); } }
        }
      }
    },
    plugins: [boxPlugin]
  });
}

makeChart('chart-a', 74, 6, aOs, aOsSmT, aOsSmV, aUkfT, aUkfV, aUkfSmT, aUkfSmV);
makeChart('chart-b', 655, 6, bOs, bOsSmT, bOsSmV, bUkfT, bUkfV, bUkfSmT, bUkfSmV);
makeChart('chart-c', 74, 399, cOs, cOsSmT, cOsSmV, cUkfT, cUkfV, cUkfSmT, cUkfSmV);
makeChart('chart-d', 655, 399, dOs, dOsSmT, dOsSmV, dUkfT, dUkfV, dUkfSmT, dUkfSmV);
</script>
</body>
</html>
